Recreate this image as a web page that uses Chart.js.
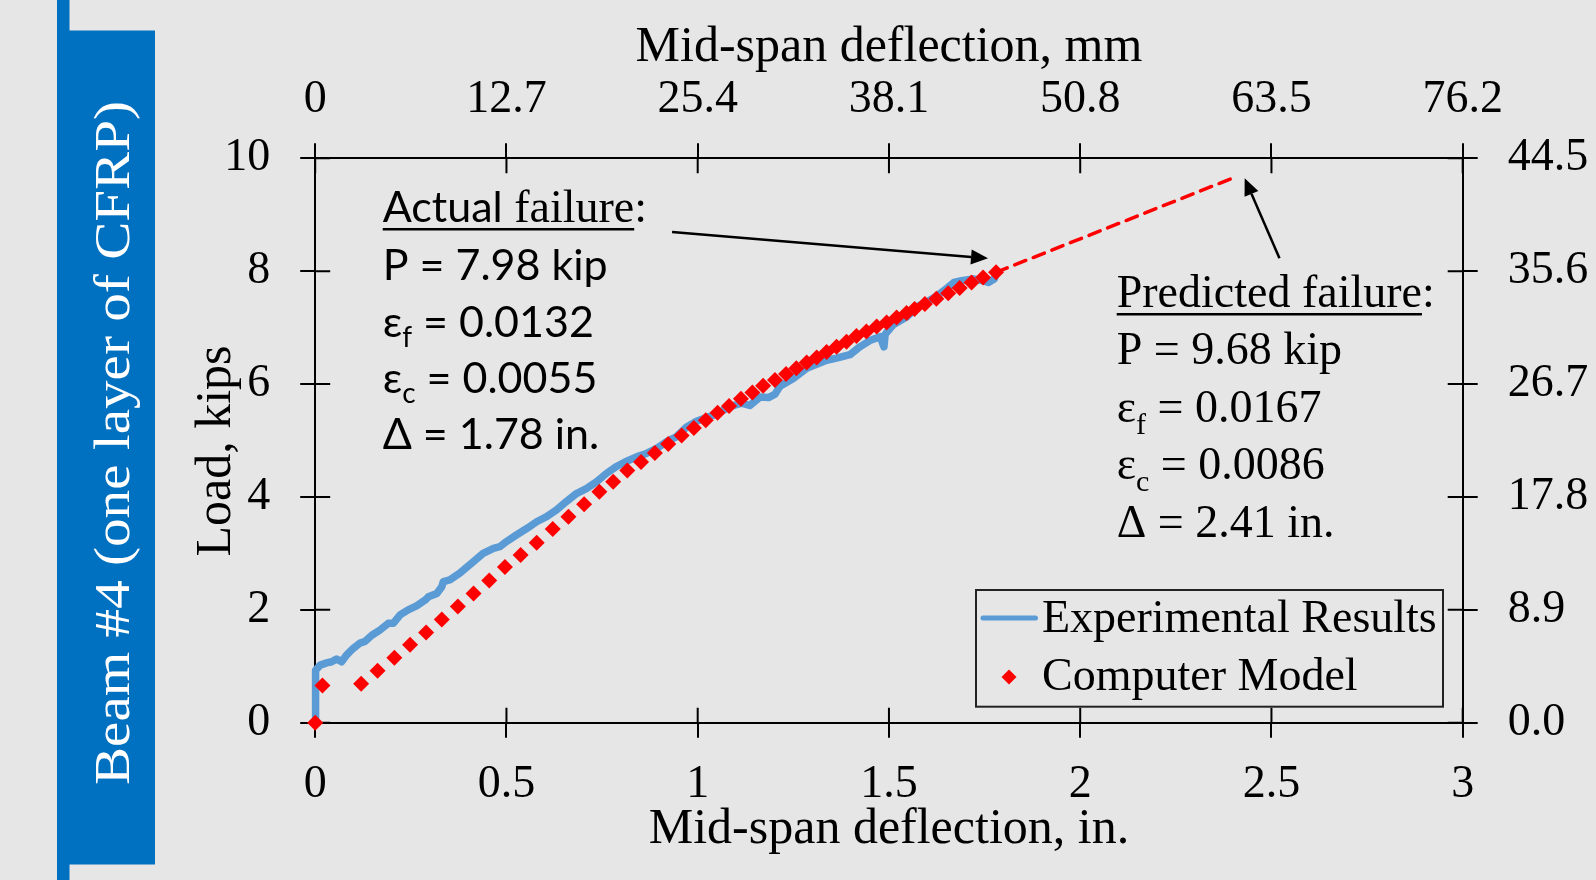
<!DOCTYPE html>
<html>
<head>
<meta charset="utf-8">
<script src="https://cdn.jsdelivr.net/npm/chart.js@4.4.1/dist/chart.umd.min.js"></script>
<style>
  html, body { margin: 0; padding: 0; background: #e6e6e6; }
  canvas { display: block; }
</style>
</head>
<body>
<canvas id="beamChart" width="1596" height="880"></canvas>
<script>
// ---- Beam #4 load–deflection data (deflection in inches, load in kips) ----
const expDeflection = [
  0, 0.001, 0.013, 0.03, 0.043, 0.056, 0.069, 0.082, 0.10, 0.117, 0.13, 0.148,
  0.169, 0.191, 0.204, 0.222, 0.243, 0.265, 0.287, 0.296, 0.318, 0.331, 0.335,
  0.352, 0.378, 0.413, 0.439, 0.466, 0.483, 0.50, 0.527, 0.553, 0.579, 0.605,
  0.631, 0.657, 0.683, 0.71, 0.736, 0.762, 0.788, 0.81, 0.84, 0.866, 0.893,
  0.919, 0.945, 0.971, 0.997, 1.02, 1.05, 1.07, 1.093, 1.115, 1.136, 1.163,
  1.185, 1.202, 1.215, 1.25, 1.285, 1.311, 1.337, 1.363, 1.398, 1.424, 1.45,
  1.477, 1.487, 1.49, 1.511, 1.546, 1.576, 1.60, 1.625, 1.65, 1.67, 1.69,
  1.72, 1.74, 1.76, 1.775, 1.78
];
const expLoad = [
  0, 0.93, 1.02, 1.06, 1.08, 1.13, 1.08, 1.20, 1.32, 1.41, 1.44, 1.55,
  1.64, 1.76, 1.76, 1.91, 2.00, 2.07, 2.17, 2.23, 2.29, 2.41, 2.50,
  2.53, 2.65, 2.85, 3.00, 3.09, 3.12, 3.21, 3.33, 3.44, 3.56, 3.65,
  3.77, 3.92, 4.06, 4.15, 4.27, 4.42, 4.54, 4.62, 4.71, 4.77, 4.86,
  4.98, 5.07, 5.24, 5.34, 5.40, 5.47, 5.55, 5.62, 5.66, 5.62, 5.77,
  5.76, 5.82, 5.96, 6.10, 6.28, 6.35, 6.42, 6.46, 6.52, 6.66, 6.77,
  6.84, 6.66, 6.88, 7.05, 7.19, 7.38, 7.46, 7.56, 7.69, 7.80, 7.83,
  7.86, 7.84, 7.80, 7.86, 7.95
];

const modelDeflection = [
  0, 0.019, 0.12, 0.163, 0.207, 0.248, 0.29, 0.331, 0.373, 0.414, 0.455,
  0.496, 0.537, 0.579, 0.621, 0.662, 0.703, 0.743, 0.779, 0.816, 0.852,
  0.888, 0.923, 0.958, 0.99, 1.021, 1.052, 1.082, 1.113, 1.143, 1.171,
  1.202, 1.231, 1.258, 1.285, 1.311, 1.337, 1.363, 1.389, 1.415, 1.441,
  1.468, 1.494, 1.52, 1.546, 1.567, 1.594, 1.624, 1.655, 1.685, 1.716,
  1.746, 1.78
];
const modelLoad = [
  0, 0.66, 0.69, 0.92, 1.15, 1.38, 1.60, 1.83, 2.06, 2.29, 2.52,
  2.76, 2.97, 3.19, 3.43, 3.65, 3.87, 4.09, 4.27, 4.47, 4.62,
  4.78, 4.94, 5.09, 5.22, 5.36, 5.49, 5.61, 5.74, 5.85, 5.97,
  6.07, 6.18, 6.28, 6.38, 6.47, 6.57, 6.66, 6.75, 6.85, 6.93,
  7.02, 7.09, 7.18, 7.26, 7.33, 7.42, 7.51, 7.61, 7.70, 7.80,
  7.89, 7.98
];

// Extrapolated model branch from actual failure to predicted failure
const predictedDeflection = [1.78, 2.41];
const predictedLoad = [7.98, 9.68];

// Tick labels
const inTickLabels = ['0', '0.5', '1', '1.5', '2', '2.5', '3'];
const mmTickLabels = ['0', '12.7', '25.4', '38.1', '50.8', '63.5', '76.2'];
const kNTickLabels = ['0.0', '8.9', '17.8', '26.7', '35.6', '44.5'];

const SERIF = "'Liberation Serif', 'Times New Roman', serif";
const SANS = "Lato, 'Liberation Sans', sans-serif";
const BLUE = '#5b9bd5';
const RED = '#ff0000';

const toPoints = (xs, ys) => xs.map((x, i) => ({ x, y: ys[i] }));

// Background, the vertical title band and the left axis title
const bandPlugin = {
  id: 'band',
  beforeDraw(chart) {
    const { ctx } = chart;
    ctx.save();
    ctx.fillStyle = '#e6e6e6';
    ctx.fillRect(0, 0, chart.width, chart.height);
    ctx.fillStyle = '#0070c0';
    ctx.fillRect(57, 0, 12.5, chart.height);
    ctx.fillRect(57, 30.5, 98, 834);

    ctx.save();
    const label = 'Beam #4 (one layer of CFRP)';
    ctx.translate(129, 443);
    ctx.rotate(-Math.PI / 2);
    ctx.font = '50px ' + SERIF;
    const w = ctx.measureText(label).width;
    ctx.scale(684 / w, 1);
    ctx.fillStyle = '#ffffff';
    ctx.textAlign = 'center';
    ctx.textBaseline = 'alphabetic';
    ctx.fillText(label, 0, 0);
    ctx.restore();

    ctx.save();
    ctx.translate(230, 451);
    ctx.rotate(-Math.PI / 2);
    ctx.font = '50px ' + SERIF;
    ctx.fillStyle = '#000';
    ctx.textAlign = 'center';
    ctx.textBaseline = 'alphabetic';
    ctx.fillText('Load, kips', 0, 0);
    ctx.restore();
    ctx.restore();
  }
};

// Tick marks that cross every axis line (inner half)
const innerTicksPlugin = {
  id: 'innerTicks',
  beforeDatasetsDraw(chart) {
    const { ctx, chartArea: a, scales } = chart;
    const len = 15;
    ctx.save();
    ctx.strokeStyle = '#000';
    ctx.lineWidth = 2;
    ctx.beginPath();
    scales.x.ticks.forEach(t => {
      const p = scales.x.getPixelForValue(t.value);
      ctx.moveTo(p, a.bottom); ctx.lineTo(p, a.bottom - len);
    });
    scales.x2.ticks.forEach(t => {
      const p = scales.x2.getPixelForValue(t.value);
      ctx.moveTo(p, a.top); ctx.lineTo(p, a.top + len);
    });
    scales.y.ticks.forEach(t => {
      const p = scales.y.getPixelForValue(t.value);
      ctx.moveTo(a.left, p); ctx.lineTo(a.left + len, p);
    });
    scales.y2.ticks.forEach(t => {
      const p = scales.y2.getPixelForValue(t.value);
      ctx.moveTo(a.right, p); ctx.lineTo(a.right - len, p);
    });
    ctx.stroke();
    ctx.restore();
  }
};

function arrow(ctx, x1, y1, x2, y2) {
  const ang = Math.atan2(y2 - y1, x2 - x1);
  const head = 17, half = 7.5;
  const bx = x2 - head * Math.cos(ang), by = y2 - head * Math.sin(ang);
  ctx.beginPath();
  ctx.moveTo(x1, y1);
  ctx.lineTo(bx, by);
  ctx.stroke();
  ctx.beginPath();
  ctx.moveTo(x2, y2);
  ctx.lineTo(bx + half * Math.sin(ang), by - half * Math.cos(ang));
  ctx.lineTo(bx - half * Math.sin(ang), by + half * Math.cos(ang));
  ctx.closePath();
  ctx.fill();
}

// Draws a line of mixed runs: {t, font, size, ul, sub}
function richLine(ctx, x, y, runs) {
  let cx = x;
  let ulStart = null, ulEnd = null;
  runs.forEach(r => {
    ctx.font = r.size + 'px ' + r.font;
    const dy = r.sub ? r.sub : 0;
    ctx.fillText(r.t, cx, y + dy);
    const w = ctx.measureText(r.t).width;
    if (r.ul) {
      if (ulStart === null) ulStart = cx;
      ulEnd = cx + w;
    }
    cx += w;
  });
  if (ulStart !== null) {
    ctx.save();
    ctx.lineWidth = 2.5;
    ctx.beginPath();
    ctx.moveTo(ulStart, y + 7.5);
    ctx.lineTo(ulEnd, y + 7.5);
    ctx.stroke();
    ctx.restore();
  }
}

// Failure annotations, arrows and the legend box
const annotationPlugin = {
  id: 'annotations',
  afterDatasetsDraw(chart) {
    const { ctx, scales } = chart;
    const X = v => scales.x.getPixelForValue(v);
    const Y = v => scales.y.getPixelForValue(v);
    ctx.save();
    ctx.fillStyle = '#000';
    ctx.strokeStyle = '#000';
    ctx.lineWidth = 2.5;
    ctx.textBaseline = 'alphabetic';
    ctx.textAlign = 'left';

    // arrows pointing at the actual and predicted failure points
    arrow(ctx, X(0.933), Y(8.694), X(1.759), Y(8.228));
    arrow(ctx, X(2.521), Y(8.228), X(2.430), Y(9.646));

    // actual failure block
    const lx = 382.7, ls = 43;
    const lb = [221.7, 279.5, 336.5, 393, 448.5];
    richLine(ctx, lx, lb[0], [
      { t: 'Actual', font: SANS, size: ls, ul: true },
      { t: ' failure', font: SERIF, size: 46, ul: true },
      { t: ':', font: SERIF, size: 46 }
    ]);
    richLine(ctx, lx, lb[1], [{ t: 'P = 7.98 kip', font: SANS, size: ls }]);
    richLine(ctx, lx, lb[2], [
      { t: 'ε', font: SANS, size: ls },
      { t: 'f', font: SANS, size: 28, sub: 10 },
      { t: ' = 0.0132', font: SANS, size: ls }
    ]);
    richLine(ctx, lx, lb[3], [
      { t: 'ε', font: SANS, size: ls },
      { t: 'c', font: SANS, size: 28, sub: 10 },
      { t: ' = 0.0055', font: SANS, size: ls }
    ]);
    richLine(ctx, lx, lb[4], [{ t: 'Δ = 1.78 in.', font: SANS, size: ls }]);

    // predicted failure block
    const rx = 1116.7, rs = 46;
    const rb = [306.7, 364, 421.5, 479, 536.5];
    richLine(ctx, rx, rb[0], [
      { t: 'Predicted failure', font: SERIF, size: rs, ul: true },
      { t: ':', font: SERIF, size: rs }
    ]);
    richLine(ctx, rx, rb[1], [{ t: 'P = 9.68 kip', font: SERIF, size: rs }]);
    richLine(ctx, rx, rb[2], [
      { t: 'ε', font: SERIF, size: rs },
      { t: 'f', font: SERIF, size: 30, sub: 12 },
      { t: ' = 0.0167', font: SERIF, size: rs }
    ]);
    richLine(ctx, rx, rb[3], [
      { t: 'ε', font: SERIF, size: rs },
      { t: 'c', font: SERIF, size: 30, sub: 12 },
      { t: ' = 0.0086', font: SERIF, size: rs }
    ]);
    richLine(ctx, rx, rb[4], [{ t: 'Δ = 2.41 in.', font: SERIF, size: rs }]);

    // legend
    const ds = chart.data.datasets;
    ctx.lineWidth = 2;
    ctx.strokeStyle = '#222';
    ctx.strokeRect(976, 590, 467, 116.7);
    ctx.strokeStyle = ds[2].borderColor;
    ctx.lineWidth = 5;
    ctx.lineCap = 'round';
    ctx.beginPath();
    ctx.moveTo(983, 618);
    ctx.lineTo(1035.5, 618);
    ctx.stroke();
    ctx.fillStyle = ds[0].backgroundColor;
    const r = 7.5;
    ctx.beginPath();
    ctx.moveTo(1009 - r, 677); ctx.lineTo(1009, 677 - r);
    ctx.lineTo(1009 + r, 677); ctx.lineTo(1009, 677 + r);
    ctx.closePath();
    ctx.fill();
    ctx.fillStyle = '#000';
    ctx.font = '46px ' + SERIF;
    ctx.fillText(ds[2].label, 1042, 631.7);
    ctx.fillText(ds[0].label, 1042, 690);
    ctx.restore();
  }
};

const tickFont = { family: SERIF, size: 46 };
const titleFont = { family: SERIF, size: 50 };
const gridOpts = { drawOnChartArea: false, drawTicks: true, tickLength: 15, color: '#000', lineWidth: 2 };
const borderOpts = { display: true, color: '#000', width: 2 };

new Chart(document.getElementById('beamChart'), {
  type: 'scatter',
  data: {
    datasets: [
      {
        label: 'Computer Model',
        data: toPoints(modelDeflection, modelLoad),
        showLine: false,
        pointStyle: 'rectRot',
        pointRadius: 8,
        pointBorderWidth: 0,
        backgroundColor: RED,
        borderColor: RED,
        clip: false
      },
      {
        label: 'Predicted',
        data: toPoints(predictedDeflection, predictedLoad),
        showLine: true,
        pointRadius: 0,
        borderColor: RED,
        borderWidth: 3.5,
        borderDash: [12, 8],
        borderCapStyle: 'round',
        clip: false
      },
      {
        label: 'Experimental Results',
        data: toPoints(expDeflection, expLoad),
        showLine: true,
        pointRadius: 0,
        borderColor: BLUE,
        borderWidth: 7.5,
        borderJoinStyle: 'round',
        borderCapStyle: 'round',
        tension: 0,
        clip: false
      }
    ]
  },
  options: {
    responsive: false,
    animation: false,
    events: [],
    layout: { padding: 0 },
    plugins: { legend: { display: false }, tooltip: { enabled: false } },
    scales: {
      x: {
        type: 'linear', position: 'bottom', min: 0, max: 3,
        ticks: { stepSize: 0.5, font: tickFont, color: '#000', padding: 20, maxRotation: 0, autoSkip: false,
                 callback: (v, i) => inTickLabels[i] },
        grid: gridOpts, border: borderOpts,
        title: { display: true, text: 'Mid-span deflection, in.', font: titleFont, color: '#000', padding: { top: 0, bottom: 20 } },
        afterFit: s => { s.height = 157.3; }
      },
      x2: {
        type: 'linear', position: 'top', min: 0, max: 3,
        ticks: { stepSize: 0.5, font: tickFont, color: '#000', padding: 16, maxRotation: 0, autoSkip: false,
                 callback: (v, i) => mmTickLabels[i] },
        grid: gridOpts, border: borderOpts,
        title: { display: true, text: 'Mid-span deflection, mm', font: titleFont, color: '#000', padding: { top: 18, bottom: 0 } },
        afterFit: s => { s.height = 158.3; }
      },
      y: {
        type: 'linear', position: 'left', min: 0, max: 10,
        ticks: { stepSize: 2, font: tickFont, color: '#000', padding: 30, autoSkip: false },
        grid: gridOpts, border: borderOpts,
        afterFit: s => { s.width = 315.2; }
      },
      y2: {
        type: 'linear', position: 'right', min: 0, max: 10,
        ticks: { stepSize: 2, font: tickFont, color: '#000', padding: 30, autoSkip: false,
                 callback: (v, i) => kNTickLabels[i] },
        grid: gridOpts, border: borderOpts,
        afterFit: s => { s.width = 133.3; }
      }
    }
  },
  plugins: [bandPlugin, innerTicksPlugin, annotationPlugin]
});
</script>
</body>
</html>
